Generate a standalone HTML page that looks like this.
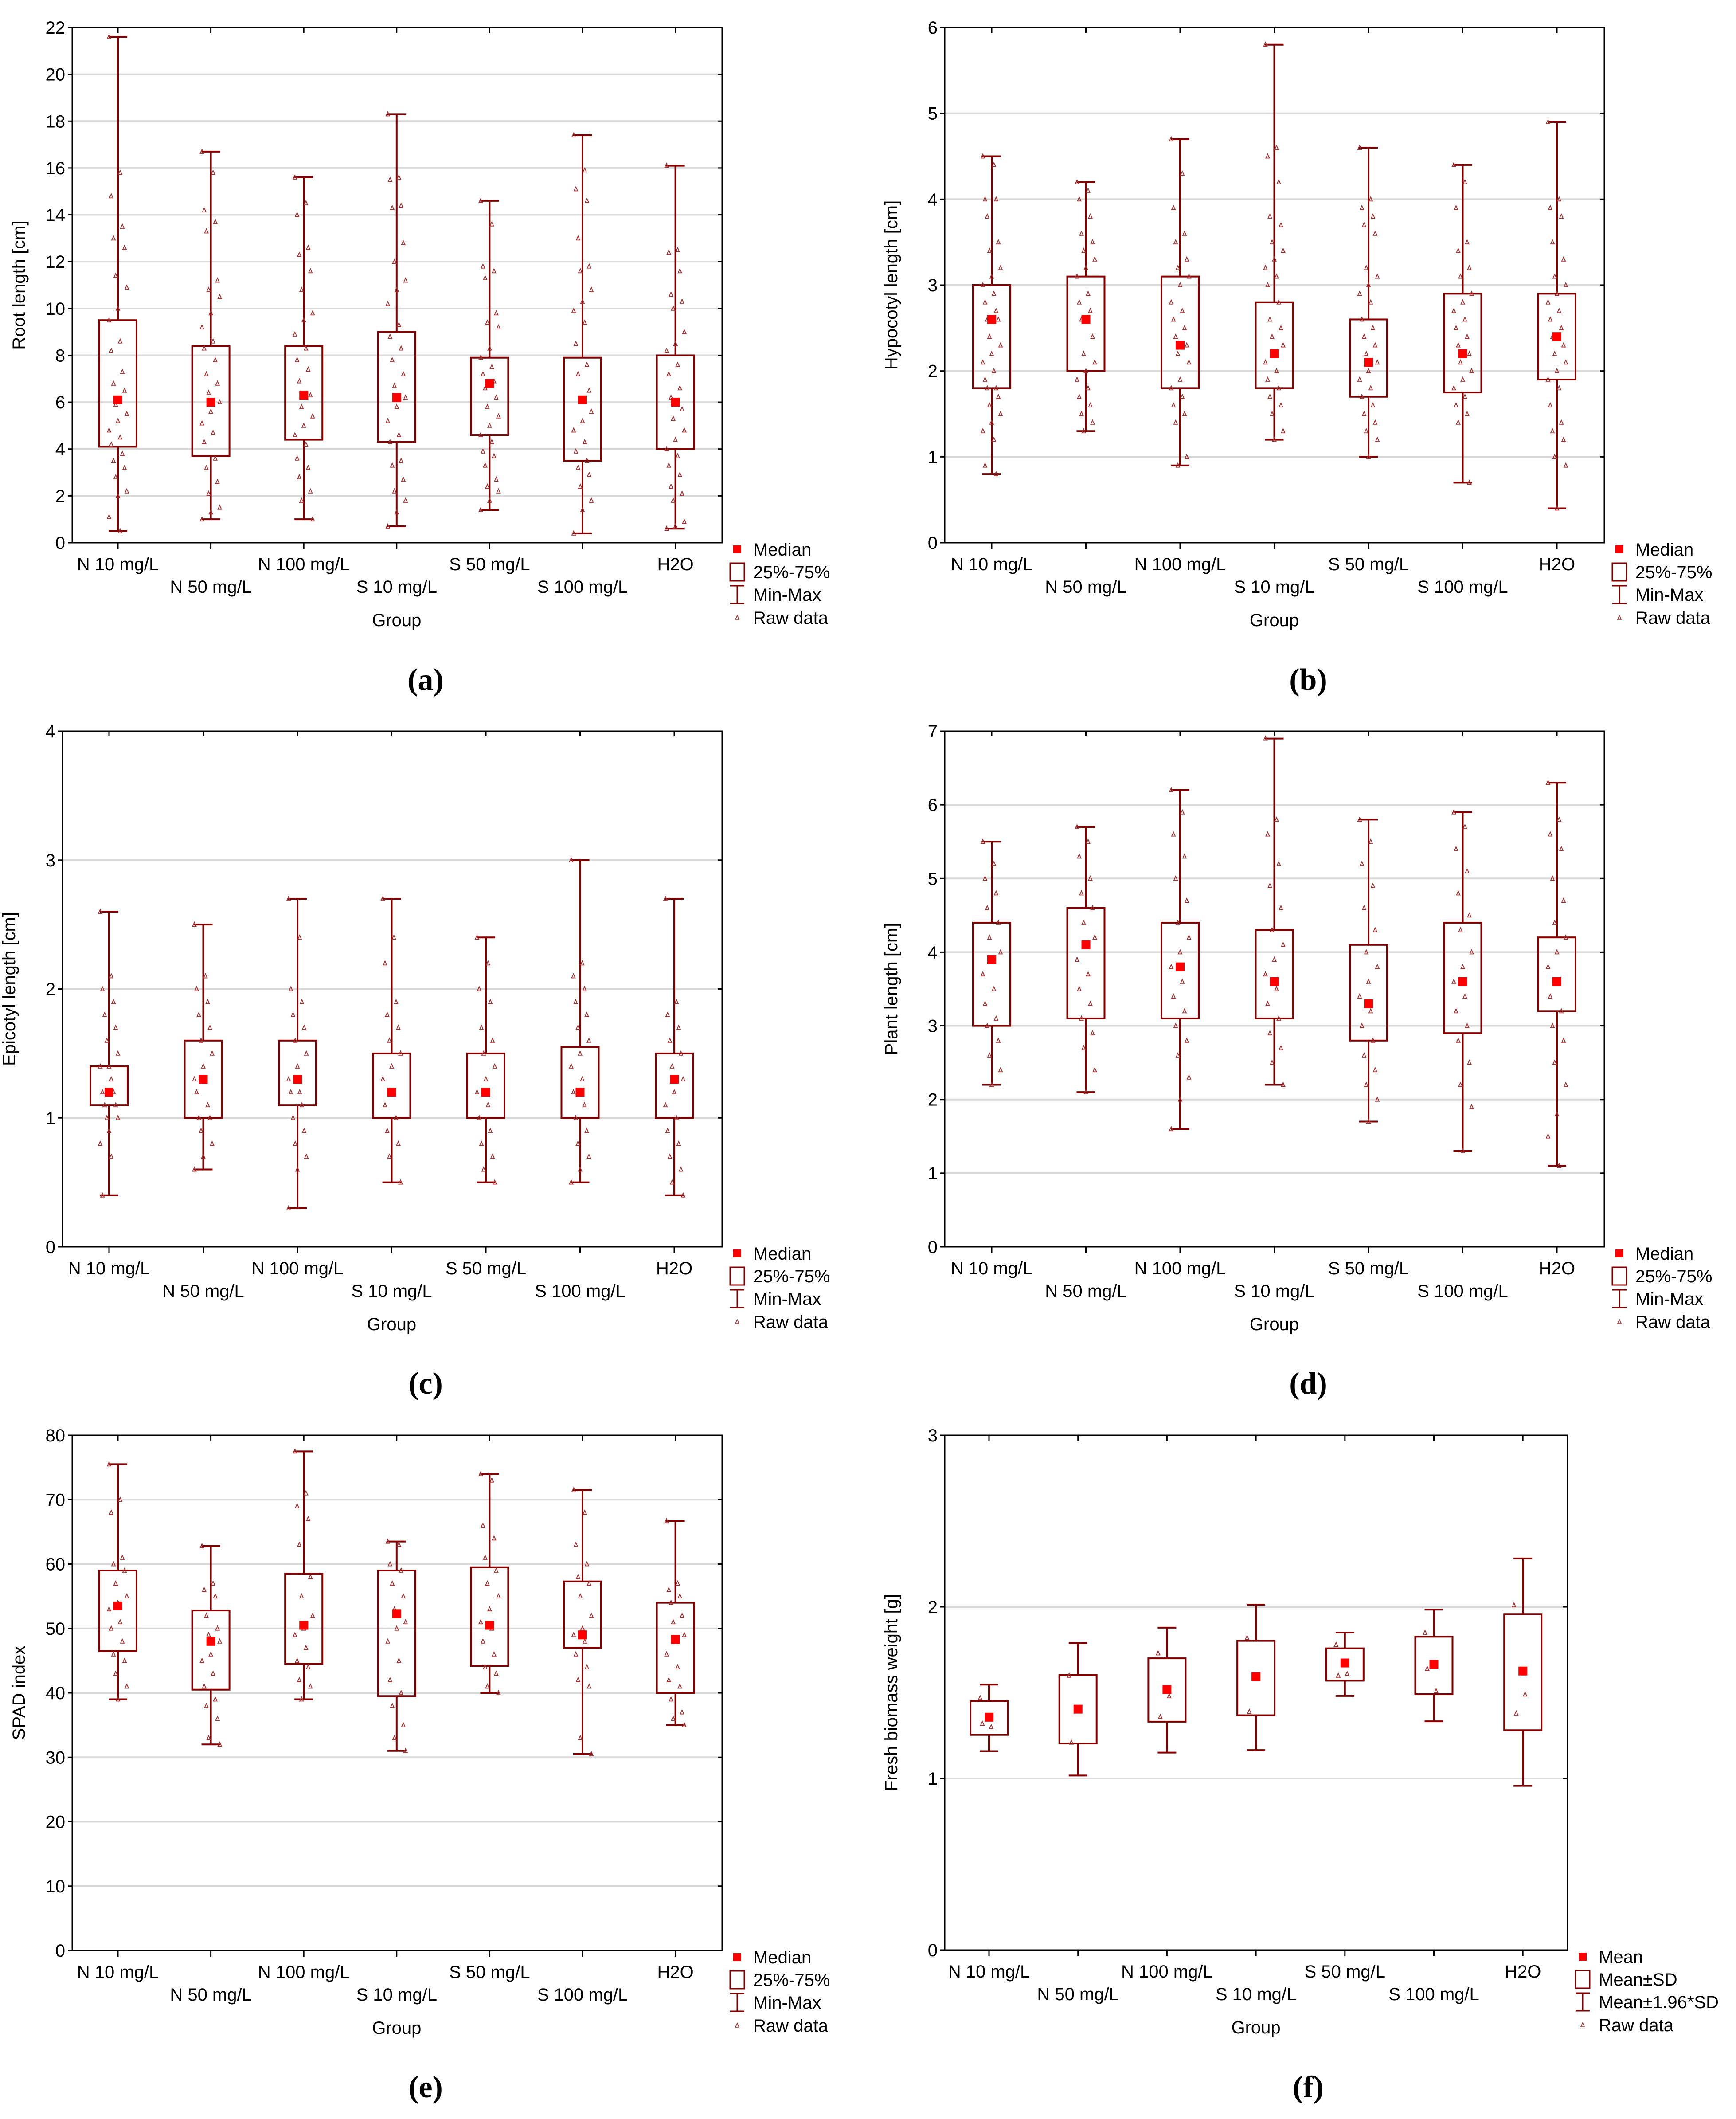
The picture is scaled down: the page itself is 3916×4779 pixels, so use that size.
<!DOCTYPE html>
<html><head><meta charset="utf-8"><style>
html,body{margin:0;padding:0;background:#fff;}
svg{display:block;}
text{font-family:"Liberation Sans",sans-serif;}
</style></head>
<body>
<svg id="fig" width="3916" height="4779" viewBox="0 0 3916 4779" xmlns="http://www.w3.org/2000/svg"></svg>
<script>
const groups = ["N 10 mg/L","N 50 mg/L","N 100 mg/L","S 10 mg/L","S 50 mg/L","S 100 mg/L","H2O"];

// (a) Root length
const rootMin = [0.5,1.0,1.0,0.7,1.4,0.4,0.6];
const rootQ1  = [4.1,3.7,4.4,4.3,4.6,3.5,4.0];
const rootMed = [6.1,6.0,6.3,6.2,6.8,6.1,6.0];
const rootQ3  = [9.5,8.4,8.4,9.0,7.9,7.9,8.0];
const rootMax = [21.6,16.7,15.6,18.3,14.6,17.4,16.1];
const rootRaw = [
 [21.6,15.8,14.8,13.5,13.0,12.6,11.4,10.9,10.0,9.5,8.6,8.2,7.3,6.8,6.5,5.9,5.5,5.2,4.8,4.5,4.2,3.8,3.5,3.2,2.8,2.2,2.0,1.1,0.5],
 [16.7,15.8,14.2,13.7,13.3,11.2,10.8,10.5,9.8,9.2,8.6,8.3,7.8,7.2,6.8,6.4,6.0,5.6,5.1,4.7,4.3,3.6,3.2,2.6,2.1,1.5,1.3,1.0],
 [15.6,14.5,14.0,12.6,12.3,11.6,10.8,9.8,9.5,8.9,8.3,7.8,7.4,6.9,6.3,5.8,5.4,5.0,4.6,4.2,3.6,3.2,2.8,2.2,1.8,1.0],
 [18.3,15.6,15.5,14.4,14.3,12.8,12.0,11.2,10.8,10.2,9.3,8.8,8.3,7.8,7.2,6.7,6.2,5.8,5.2,4.6,4.3,3.5,3.3,2.7,2.2,1.8,1.3,0.7],
 [14.6,13.6,11.8,11.6,11.3,9.8,9.4,9.2,8.3,7.9,7.5,7.2,6.9,6.6,6.2,5.8,5.4,5.0,4.6,4.3,3.9,3.7,3.3,2.7,2.4,2.2,1.8,1.4],
 [17.4,15.9,15.1,14.6,13.0,11.8,11.6,10.8,10.3,9.9,9.4,8.5,7.6,7.2,6.5,6.1,5.6,5.2,4.8,4.3,3.9,3.5,3.2,2.9,2.4,1.8,1.4,0.4],
 [16.1,12.5,12.4,11.6,10.6,10.3,10.0,9.0,8.5,8.2,7.6,7.2,6.6,6.2,5.7,5.3,4.8,4.4,4.0,3.7,3.3,2.9,2.4,2.1,1.8,0.9,0.7,0.6]
];
const rootTicks = [0,2,4,6,8,10,12,14,16,18,20,22];

// (b) Hypocotyl length
const hypMin = [0.8,1.3,0.9,1.2,1.0,0.7,0.4];
const hypQ1  = [1.8,2.0,1.8,1.8,1.7,1.75,1.9];
const hypMed = [2.6,2.6,2.3,2.2,2.1,2.2,2.4];
const hypQ3  = [3.0,3.1,3.1,2.8,2.6,2.9,2.9];
const hypMax = [4.5,4.2,4.7,5.8,4.6,4.4,4.9];
const hypRaw = [
 [4.5,4.4,4.0,4.0,3.8,3.5,3.4,3.2,3.1,3.0,2.9,2.8,2.7,2.6,2.6,2.4,2.3,2.2,2.1,2.0,1.9,1.8,1.8,1.7,1.6,1.5,1.4,1.3,1.2,0.9,0.8],
 [4.2,4.1,4.0,3.8,3.6,3.5,3.4,3.3,3.2,3.1,2.9,2.8,2.7,2.6,2.4,2.2,2.1,2.0,1.9,1.8,1.7,1.6,1.5,1.4,1.3],
 [4.7,4.3,3.9,3.6,3.5,3.3,3.2,3.1,3.0,2.8,2.7,2.6,2.5,2.4,2.3,2.2,2.1,1.9,1.8,1.7,1.6,1.5,1.4,1.0,0.9],
 [5.8,4.6,4.5,4.2,3.8,3.7,3.5,3.4,3.3,3.2,3.1,3.0,2.8,2.6,2.5,2.4,2.3,2.2,2.1,2.0,1.9,1.8,1.7,1.6,1.5,1.3,1.2],
 [4.6,4.0,3.9,3.8,3.7,3.6,3.2,3.1,3.0,2.9,2.8,2.6,2.5,2.4,2.3,2.2,2.1,2.0,1.9,1.8,1.7,1.6,1.5,1.4,1.3,1.2,1.0],
 [4.4,4.2,3.9,3.5,3.4,3.2,3.1,2.9,2.8,2.7,2.6,2.5,2.4,2.3,2.2,2.1,2.0,1.9,1.8,1.7,1.6,1.5,1.4,0.7],
 [4.9,4.0,3.9,3.8,3.5,3.3,3.1,3.0,2.9,2.8,2.7,2.6,2.5,2.4,2.3,2.2,2.1,2.0,1.9,1.8,1.6,1.4,1.3,1.2,1.0,0.9,0.4]
];
const hypTicks = [0,1,2,3,4,5,6];

// (c) Epicotyl length
const epiMin = [0.4,0.6,0.3,0.5,0.5,0.5,0.4];
const epiQ1  = [1.1,1.0,1.1,1.0,1.0,1.0,1.0];
const epiMed = [1.2,1.3,1.3,1.2,1.2,1.2,1.3];
const epiQ3  = [1.4,1.6,1.6,1.5,1.5,1.55,1.5];
const epiMax = [2.6,2.5,2.7,2.7,2.4,3.0,2.7];
const epiRaw = [
 [2.6,2.1,2.0,1.9,1.8,1.7,1.6,1.5,1.4,1.4,1.3,1.2,1.2,1.1,1.1,1.0,1.0,0.9,0.8,0.7,0.4],
 [2.5,2.1,2.0,1.9,1.8,1.7,1.6,1.5,1.4,1.3,1.3,1.2,1.1,1.0,1.0,0.9,0.8,0.7,0.6],
 [2.7,2.4,2.0,1.9,1.8,1.7,1.6,1.5,1.4,1.3,1.2,1.2,1.1,1.0,0.9,0.8,0.7,0.6,0.3],
 [2.7,2.4,2.2,1.9,1.8,1.7,1.6,1.5,1.4,1.3,1.2,1.1,1.0,0.9,0.8,0.7,0.5],
 [2.4,2.2,2.0,1.9,1.7,1.6,1.5,1.4,1.3,1.2,1.1,1.0,0.9,0.8,0.7,0.6,0.5],
 [3.0,2.2,2.1,2.0,1.9,1.8,1.7,1.6,1.5,1.4,1.3,1.2,1.1,1.0,0.9,0.8,0.7,0.6,0.5],
 [2.7,1.9,1.8,1.7,1.6,1.5,1.4,1.3,1.2,1.1,1.0,0.9,0.8,0.7,0.6,0.5,0.4]
];
const epiTicks = [0,1,2,3,4];

// (d) Plant length
const plMin = [2.2,2.1,1.6,2.2,1.7,1.3,1.1];
const plQ1  = [3.0,3.1,3.1,3.1,2.8,2.9,3.2];
const plMed = [3.9,4.1,3.8,3.6,3.3,3.6,3.6];
const plQ3  = [4.4,4.6,4.4,4.3,4.1,4.4,4.2];
const plMax = [5.5,5.7,6.2,6.9,5.8,5.9,6.3];
const plRaw = [
 [5.5,5.2,5.0,4.8,4.6,4.4,4.2,4.0,3.9,3.7,3.5,3.3,3.1,3.0,2.8,2.6,2.4,2.2],
 [5.7,5.5,5.3,5.0,4.8,4.6,4.4,4.2,4.1,3.9,3.7,3.5,3.3,3.1,2.9,2.7,2.4,2.1],
 [6.2,5.9,5.6,5.3,5.0,4.7,4.4,4.2,4.0,3.8,3.6,3.4,3.2,3.0,2.8,2.6,2.3,2.0,1.6],
 [6.9,5.8,5.6,5.2,4.9,4.6,4.3,4.1,3.9,3.7,3.5,3.3,3.1,2.9,2.7,2.5,2.2],
 [5.8,5.5,5.2,4.9,4.6,4.3,4.0,3.8,3.6,3.4,3.2,3.0,2.8,2.6,2.4,2.2,2.0,1.7],
 [5.9,5.7,5.4,5.1,4.8,4.5,4.3,4.0,3.8,3.6,3.4,3.2,3.0,2.8,2.5,2.2,1.9,1.3],
 [6.3,5.8,5.6,5.4,5.0,4.7,4.4,4.2,4.0,3.8,3.6,3.4,3.2,3.0,2.8,2.5,2.2,1.8,1.5,1.1]
];
const plTicks = [0,1,2,3,4,5,6,7];

// (e) SPAD index
const spMin = [39,32,39,31,40,30.5,35];
const spQ1  = [46.5,40.5,44.5,39.5,44.2,47,40];
const spMed = [53.5,48,50.5,52.3,50.5,49,48.3];
const spQ3  = [59,52.8,58.5,59,59.5,57.3,54];
const spMax = [75.5,62.8,77.5,63.5,74,71.5,66.7];
const spRaw = [
 [75.5,70,68,61,60,59,57,55,54,53,51,50,48,46,45,43,41,39],
 [62.8,57,56,55,52,50,49,48,46,45,43,41,39,38,36,33,32],
 [77.5,71,69,67,63,58,55,52,50,49,47,45,44,42,41,39],
 [63.5,63,60,59,57,55,53,51,50,48,45,42,40,38,35,33,31],
 [74,73,66,64,61,59,57,55,53,51,50,48,46,44,43,41,40],
 [71.5,68,63,60,58,57,55,52,50,49,48,46,44,42,41,33,30.5],
 [66.7,57,56,55,54,52,51,49,48,46,44,42,41,39,37,36,35]
];
const spTicks = [0,10,20,30,40,50,60,70,80];

// (f) Fresh biomass weight
const fwLo  = [1.159,1.017,1.151,1.165,1.481,1.333,0.957];
const fwSdL = [1.254,1.204,1.331,1.368,1.570,1.491,1.281];
const fwMean= [1.357,1.404,1.518,1.592,1.673,1.665,1.626];
const fwSdH = [1.452,1.602,1.700,1.802,1.758,1.826,1.958];
const fwHi  = [1.547,1.789,1.879,2.013,1.850,1.984,2.282];
const fwRaw = [[1.47,1.30,1.32],[1.60,1.40,1.21],[1.73,1.48,1.36],[1.82,1.58,1.39],[1.78,1.61,1.60],[1.85,1.51,1.64],[2.01,1.49,1.38]];
const fwTicks = [0,1,2,3];

const svg = document.getElementById('fig');
const NS = 'http://www.w3.org/2000/svg';
const DARK = '#800000';
function mk(tag, attrs, parent){
  const e = document.createElementNS(NS, tag);
  for (const k in attrs) e.setAttribute(k, attrs[k]);
  (parent||svg).appendChild(e);
  return e;
}
function txt(s, x, y, size, anchor, parent, extra){
  const t = mk('text', Object.assign({x:x, y:y, 'font-size':size, 'text-anchor':anchor||'middle', fill:'#000'}, extra||{}), parent);
  t.textContent = s;
  return t;
}

function panel(L, min, q1, mid, q3, max, raw, ticks, legendLabels){
  const g = mk('g', {});
  
  
  const ymax = ticks[ticks.length-1];
  const ys = v => L.y1 - v / ymax * (L.y1 - L.y0);
  const xs = i => L.c0 + i * L.dx;
  ticks.forEach(t => {
    if (t === 0 || t === ymax) return;
    const gl = mk('line', {x1:L.x0, x2:L.x1, y1:ys(t), y2:ys(t), stroke:'#d9d9d9', 'stroke-width':4}, g);
    
    
  });
  const fr = mk('rect', {x:L.x0, y:L.y0, width:L.x1-L.x0, height:L.y1-L.y0, fill:'none', stroke:'#000', 'stroke-width':3}, g);
  
  
  ticks.forEach(t => {
    const y = ys(t);
    mk('line', {x1:L.x0-10, x2:L.x0, y1:y, y2:y, stroke:'#000', 'stroke-width':3}, g);
    mk('line', {x1:L.x1-10, x2:L.x1, y1:y, y2:y, stroke:'#000', 'stroke-width':3}, g);
    const lab = txt(String(t), L.x0-16, y+14, 40, 'end', g);
    
    
  });
  const yt = txt(L.ytitle, 0, 0, 40, 'middle', g, {transform:'translate('+(L.x0-107)+','+((L.y0+L.y1)/2)+') rotate(-90)'});
  
  
  groups.forEach((name, i) => {
    const x = xs(i);
    mk('line', {x1:x, x2:x, y1:L.y1, y2:L.y1+14, stroke:'#000', 'stroke-width':3}, g);
    mk('line', {x1:x, x2:x, y1:L.y0, y2:L.y0+12, stroke:'#000', 'stroke-width':3}, g);
    const lab = txt(name, x, L.y1 + (i % 2 === 0 ? 62 : 113), 40, 'middle', g);
    
    
  });
  const xt = txt('Group', xs(3), L.y1+188, 40, 'middle', g);
  
  
  groups.forEach((name, i) => {
    const x = xs(i);
    const bg = mk('g', {}, g);
    
    
    mk('line', {x1:x, x2:x, y1:ys(max[i]), y2:ys(q3[i]), stroke:DARK, 'stroke-width':4}, bg);
    mk('line', {x1:x, x2:x, y1:ys(q1[i]), y2:ys(min[i]), stroke:DARK, 'stroke-width':4}, bg);
    mk('line', {x1:x-21, x2:x+21, y1:ys(max[i]), y2:ys(max[i]), stroke:DARK, 'stroke-width':4}, bg);
    mk('line', {x1:x-21, x2:x+21, y1:ys(min[i]), y2:ys(min[i]), stroke:DARK, 'stroke-width':4}, bg);
    mk('rect', {x:x-42, y:ys(q3[i]), width:84, height:ys(q1[i])-ys(q3[i]), fill:'none', stroke:DARK, 'stroke-width':4}, bg);
    raw[i].forEach((v, k) => {
      const off = (((k * 5) % 9) - 4) * 5;
      const y = ys(v);
      const tri = mk('path', {d:'M'+(x+off-4)+' '+(y+4)+' L'+(x+off)+' '+(y-5)+' L'+(x+off+4)+' '+(y+4)+' Z', fill:'none', stroke:'#a03030', 'stroke-width':1.8}, bg);
      
      
    });
    const m = mk('rect', {x:x-10, y:ys(mid[i])-10, width:20, height:20, fill:'#ff0000'}, bg);
    
    
  });
  const lg = mk('g', {}, g);
  
  
  const lx = L.x1 + 34, tx = L.x1 + 70;
  const ly = [L.y1+15, L.y1+66, L.y1+117, L.y1+169];
  mk('rect', {x:lx-9, y:ly[0]-9, width:18, height:18, fill:'#ff0000'}, lg);
  mk('rect', {x:lx-16, y:ly[1]-20, width:32, height:40, fill:'none', stroke:DARK, 'stroke-width':3}, lg);
  mk('line', {x1:lx, x2:lx, y1:ly[2]-20, y2:ly[2]+20, stroke:DARK, 'stroke-width':3}, lg);
  mk('line', {x1:lx-16, x2:lx+16, y1:ly[2]-20, y2:ly[2]-20, stroke:DARK, 'stroke-width':3}, lg);
  mk('line', {x1:lx-16, x2:lx+16, y1:ly[2]+20, y2:ly[2]+20, stroke:DARK, 'stroke-width':3}, lg);
  mk('path', {d:'M'+(lx-4)+' '+(ly[3]+4)+' L'+lx+' '+(ly[3]-5)+' L'+(lx+4)+' '+(ly[3]+4)+' Z', fill:'none', stroke:'#a03030', 'stroke-width':1.6}, lg);
  legendLabels.forEach((s, k) => {
    const le = txt(s, tx, ly[k]+14, 40, 'start', lg);
    
    
  });
  const cp = txt(L.cap, L.capX, L.capY, 70, 'middle', g, {style:'font-family:"Liberation Serif",serif;font-weight:bold;'});
  
  
}

const legBox = ['Median','25%-75%','Min-Max','Raw data'];
panel({name:'panel-a', x0:163, x1:1629, y0:62, y1:1224, c0:266, dx:209.6, ytitle:'Root length [cm]', cap:'(a)', capX:960, capY:1556},
  rootMin, rootQ1, rootMed, rootQ3, rootMax, rootRaw, rootTicks, legBox);
panel({name:'panel-b', x0:2131, x1:3619, y0:62, y1:1224, c0:2237, dx:212.5, ytitle:'Hypocotyl length [cm]', cap:'(b)', capX:2951, capY:1556},
  hypMin, hypQ1, hypMed, hypQ3, hypMax, hypRaw, hypTicks, legBox);
panel({name:'panel-c', x0:141, x1:1629, y0:1649, y1:2812, c0:246, dx:212.5, ytitle:'Epicotyl length [cm]', cap:'(c)', capX:960, capY:3143},
  epiMin, epiQ1, epiMed, epiQ3, epiMax, epiRaw, epiTicks, legBox);
panel({name:'panel-d', x0:2131, x1:3619, y0:1649, y1:2812, c0:2237, dx:212.5, ytitle:'Plant length [cm]', cap:'(d)', capX:2951, capY:3143},
  plMin, plQ1, plMed, plQ3, plMax, plRaw, plTicks, legBox);
panel({name:'panel-e', x0:163, x1:1629, y0:3237, y1:4399, c0:266, dx:209.6, ytitle:'SPAD index', cap:'(e)', capX:960, capY:4730},
  spMin, spQ1, spMed, spQ3, spMax, spRaw, spTicks, legBox);
panel({name:'panel-f', x0:2131, x1:3536, y0:3237, y1:4398, c0:2231, dx:200.7, ytitle:'Fresh biomass weight [g]', cap:'(f)', capX:2951, capY:4730},
  fwLo, fwSdL, fwMean, fwSdH, fwHi, fwRaw, fwTicks, ['Mean','Mean±SD','Mean±1.96*SD','Raw data']);
</script>
</body></html>
